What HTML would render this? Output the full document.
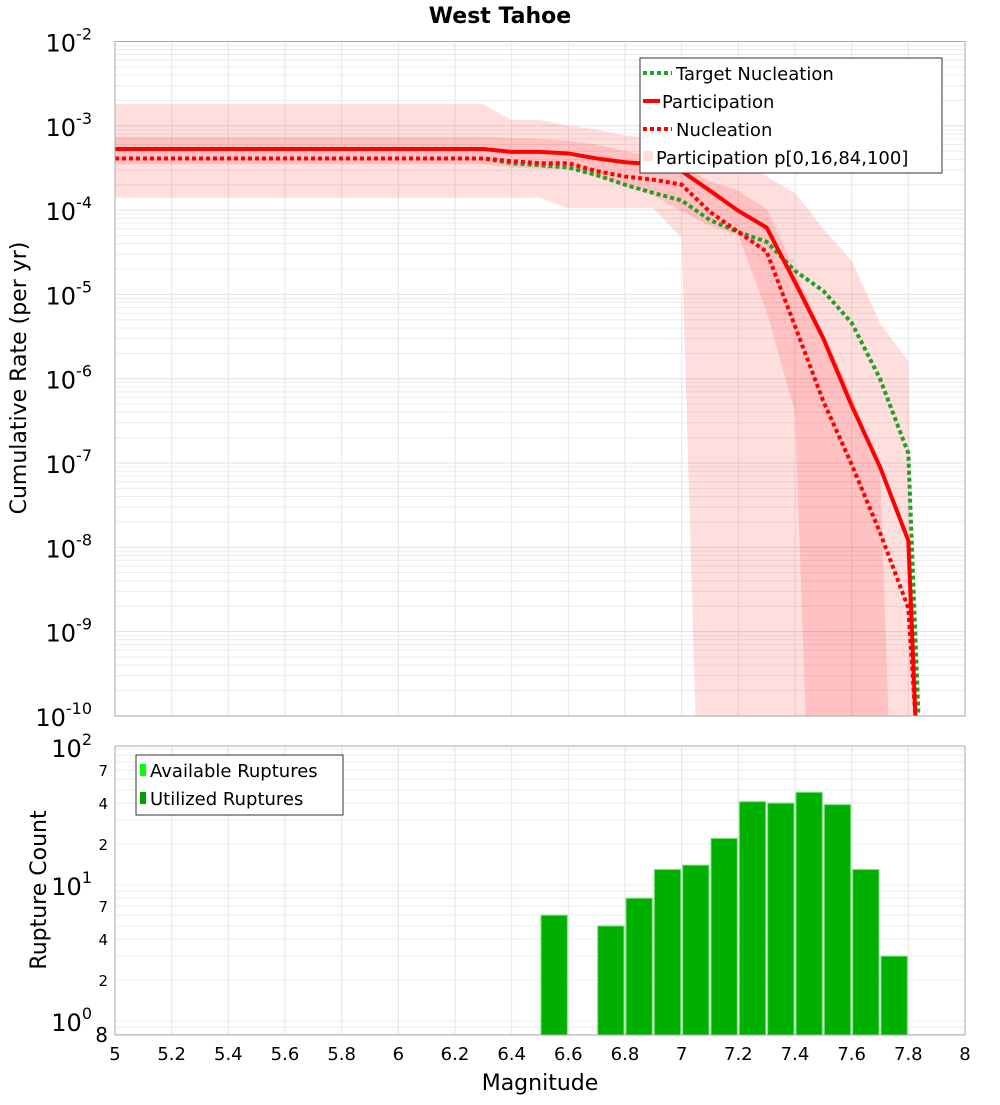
<!DOCTYPE html>
<html><head><meta charset="utf-8"><style>
body{margin:0;background:#fff;}
svg text{font-family:"DejaVu Sans","Liberation Sans",sans-serif;fill:#000;}
</style></head><body>
<svg id="chart" width="1000" height="1100" xmlns="http://www.w3.org/2000/svg">
<text x="500" y="23" text-anchor="middle" font-size="22" font-weight="bold">West Tahoe</text>
<g id="topg"></g><g id="botg"></g>
<text transform="translate(26,378) rotate(-90)" text-anchor="middle" font-size="22">Cumulative Rate (per yr)</text>
<text transform="translate(46,890) rotate(-90)" text-anchor="middle" font-size="22">Rupture Count</text>
<text x="540" y="1090" text-anchor="middle" font-size="22">Magnitude</text>
</svg>
<script>
const mags=[5,5.1,5.2,5.3,5.4,5.5,5.6,5.7,5.8,5.9,6,6.1,6.2,6.3,6.4,6.5,6.6,6.7,6.8,6.9,7,7.1,7.2,7.3,7.4,7.5,7.6,7.7,7.8,7.9];
const participation=[5.3e-4,5.3e-4,5.3e-4,5.3e-4,5.3e-4,5.3e-4,5.3e-4,5.3e-4,5.3e-4,5.3e-4,5.3e-4,5.3e-4,5.3e-4,5.3e-4,4.9e-4,4.9e-4,4.7e-4,4.1e-4,3.7e-4,3.5e-4,2.9e-4,1.7e-4,9.8e-5,6.2e-5,1.4e-5,3e-6,4.8e-7,9e-8,1.2e-8,6e-17];
const nucleation=[4.1e-4,4.1e-4,4.1e-4,4.1e-4,4.1e-4,4.1e-4,4.1e-4,4.1e-4,4.1e-4,4.1e-4,4.1e-4,4.1e-4,4.1e-4,4.1e-4,3.8e-4,3.6e-4,3.6e-4,2.9e-4,2.5e-4,2.3e-4,2.0e-4,9.5e-5,5.5e-5,3.2e-5,4.2e-6,5.4e-7,9.6e-8,1.5e-8,1.9e-9,1.2e-14];
const targetNucleation=[4.1e-4,4.1e-4,4.1e-4,4.1e-4,4.1e-4,4.1e-4,4.1e-4,4.1e-4,4.1e-4,4.1e-4,4.1e-4,4.1e-4,4.1e-4,4.1e-4,3.6e-4,3.4e-4,3.2e-4,2.6e-4,2.0e-4,1.6e-4,1.3e-4,7.6e-5,5.5e-5,4.2e-5,1.9e-5,1.1e-5,4.6e-6,1e-6,1.3e-7,2.5e-16];
const p100=[1.8e-3,1.8e-3,1.8e-3,1.8e-3,1.8e-3,1.8e-3,1.8e-3,1.8e-3,1.8e-3,1.8e-3,1.8e-3,1.8e-3,1.8e-3,1.8e-3,1.17e-3,1.17e-3,1e-3,9e-4,7.7e-4,7.2e-4,6.9e-4,5.7e-4,4.1e-4,2.5e-4,1.6e-4,6e-5,2.5e-5,4.6e-6,1.6e-6,1e-29];
const p0=[1.4e-4,1.4e-4,1.4e-4,1.4e-4,1.4e-4,1.4e-4,1.4e-4,1.4e-4,1.4e-4,1.4e-4,1.4e-4,1.4e-4,1.4e-4,1.4e-4,1.4e-4,1.4e-4,1.05e-4,1.05e-4,1.05e-4,1.05e-4,4.7e-5,1e-16,1e-16,1e-16,1e-16,1e-16,1e-16,1e-16,1e-16,1e-16];
const p84=[7.4e-4,7.4e-4,7.4e-4,7.4e-4,7.4e-4,7.4e-4,7.4e-4,7.4e-4,7.4e-4,7.4e-4,7.4e-4,7.4e-4,7.4e-4,7.4e-4,7.2e-4,7e-4,6.6e-4,6e-4,5e-4,4.3e-4,3.3e-4,2.2e-4,1.7e-4,1.03e-4,1.9e-5,3.5e-6,6.3e-7,8.9e-8,1e-17,1e-17];
const p16=[3.5e-4,3.5e-4,3.5e-4,3.5e-4,3.5e-4,3.5e-4,3.5e-4,3.5e-4,3.5e-4,3.5e-4,3.5e-4,3.5e-4,3.5e-4,3.5e-4,3.2e-4,3.1e-4,3.1e-4,2.5e-4,1.9e-4,1.5e-4,9.7e-5,6.5e-5,5e-5,6.3e-6,4e-7,1e-16,1e-16,1e-16,1e-16,1e-16];
const binCenters=[6.55,6.75,6.85,6.95,7.05,7.15,7.25,7.35,7.45,7.55,7.65,7.75];
const ruptureCounts=[6,5,8,13,14,22,41,40,48,39,13,3];
const xTicks=[5,5.2,5.4,5.6,5.8,6,6.2,6.4,6.6,6.8,7,7.2,7.4,7.6,7.8,8];
const topDecades=[-2,-3,-4,-5,-6,-7,-8,-9,-10];

const NS="http://www.w3.org/2000/svg";
const X0=115,X1=965,TT=41.5,TB=716,BT=746,BB=1035;
const xS=m=>X0+(X1-X0)*(m-5)/3;
const yT=v=>TT+84.3*(-2-Math.log10(v));
const yB=v=>1021-136*Math.log10(v);
function el(t,a,p){const e=document.createElementNS(NS,t);for(const k in a)e.setAttribute(k,a[k]);p.appendChild(e);return e;}
const topG=document.getElementById('topg'),botG=document.getElementById('botg');

const defs=el('defs',{},document.getElementById('chart'));
const c1=el('clipPath',{id:'ct'},defs);el('rect',{x:X0,y:TT,width:X1-X0,height:TB-TT},c1);
const c2=el('clipPath',{id:'cb'},defs);el('rect',{x:X0,y:BT,width:X1-X0,height:BB-BT},c2);

const gT=el('g',{},topG);


for(let d=-10;d<-2;d++)for(let k=1;k<10;k++){const y=yT(k*Math.pow(10,d));el('line',{x1:X0,x2:X1,y1:y,y2:y,stroke:k==1?'#e0e0e0':'#ececec','stroke-width':1},gT);}
xTicks.forEach(m=>el('line',{x1:xS(m),x2:xS(m),y1:TT,y2:TB,stroke:'#e6e6e6'},gT));
const gP=el('g',{'clip-path':'url(#ct)'},topG);
function band(hi,lo,fill,name){let d='M'+mags.map((m,i)=>xS(m)+','+yT(hi[i])).join('L');for(let i=mags.length-1;i>=0;i--)d+='L'+xS(mags[i])+','+yT(lo[i]);const p=el('path',{d:d+'Z',fill:fill},gP);}
band(p100,p0,'rgba(255,0,0,0.13)','band-p0-p100');
band(p84,p16,'rgba(255,0,0,0.13)','band-p16-p84');
function line(arr,col,dash,name){const p=el('polyline',{points:mags.map((m,i)=>xS(m)+','+yT(arr[i])).join(' '),fill:'none',stroke:col,'stroke-width':4,'stroke-dasharray':dash},gP);}
line(targetNucleation,'#22a022','4,3','line-target-nucleation');
line(participation,'#ff0000','none','line-participation');
line(nucleation,'#ff0000','4,3','line-nucleation');
el('rect',{x:X0,y:TT,width:X1-X0,height:TB-TT,fill:'none',stroke:'#aaa'},topG);
topDecades.forEach(d=>{const t=el('text',{x:92,y:yT(Math.pow(10,d))+10,'text-anchor':'end','font-size':24},topG);t.textContent='10';const s=el('tspan',{dy:-12,'font-size':16},t);s.textContent=String(d);});

const gB=el('g',{},botG);


[0.8,0.9,1,2,3,4,5,6,7,8,9,10,20,30,40,50,60,70,80,90,100].forEach(v=>{const y=yB(v);if(y>=BT)el('line',{x1:X0,x2:X1,y1:y,y2:y,stroke:'#ececec'},gB);});
xTicks.forEach(m=>el('line',{x1:xS(m),x2:xS(m),y1:BT,y2:BB,stroke:'#e6e6e6'},gB));
const gBar=el('g',{'clip-path':'url(#cb)'},botG);
binCenters.forEach((c,i)=>{const x=xS(c-0.05)+1,w=xS(c+0.05)-xS(c-0.05)-2,y=yB(ruptureCounts[i]);const r=el('rect',{x:x,y:y,width:w,height:BB-y,fill:'#00b000',stroke:'#7fe07f','stroke-width':1},gBar);});
el('rect',{x:X0,y:BT,width:X1-X0,height:BB-BT,fill:'none',stroke:'#aaa'},botG);
[[100,'2'],[10,'1'],[1,'0']].forEach(([v,e])=>{const t=el('text',{x:92,y:yB(v)+(v==100?8:10),'text-anchor':'end','font-size':24},botG);t.textContent='10';const s=el('tspan',{dy:-12,'font-size':16},t);s.textContent=e;});
[[70,'7'],[40,'4'],[20,'2'],[7,'7'],[4,'4'],[2,'2']].forEach(([v,s])=>{const t=el('text',{x:108,y:yB(v)+6,'text-anchor':'end','font-size':15,fill:'#333'},botG);t.textContent=s;});
{const t=el('text',{x:108,y:1042,'text-anchor':'end','font-size':20},botG);t.textContent='8';}
xTicks.forEach(m=>{const t=el('text',{x:xS(m),y:1060,'text-anchor':'middle','font-size':18},botG);t.textContent=String(m);});

const lg=el('g',{},topG);


el('rect',{x:640,y:58,width:302,height:115,fill:'#fff',stroke:'#333'},lg);
el('line',{x1:643,x2:672,y1:73,y2:73,stroke:'#22a022','stroke-width':4,'stroke-dasharray':'4,3'},lg);
el('line',{x1:643,x2:660,y1:101,y2:101,stroke:'#ff0000','stroke-width':4},lg);
el('line',{x1:643,x2:672,y1:129,y2:129,stroke:'#ff0000','stroke-width':4,'stroke-dasharray':'4,3'},lg);
el('rect',{x:643,y:151,width:10,height:10,fill:'rgba(255,0,0,0.13)'},lg);
[['Target Nucleation',676,80],['Participation',662,108],['Nucleation',676,136],['Participation p[0,16,84,100]',656,164]].forEach(([s,x,y])=>{const t=el('text',{x:x,y:y,'font-size':18},lg);t.textContent=s;});
const lb=el('g',{},botG);


el('rect',{x:136,y:755,width:207,height:60,fill:'#fff',stroke:'#333'},lb);
el('rect',{x:140,y:764,width:6,height:12,fill:'#00ff00'},lb);
el('rect',{x:140,y:792,width:6,height:12,fill:'#00a000'},lb);
[['Available Ruptures',150,777],['Utilized Ruptures',150,805]].forEach(([s,x,y])=>{const t=el('text',{x:x,y:y,'font-size':18},lb);t.textContent=s;});
</script>
</body></html>
